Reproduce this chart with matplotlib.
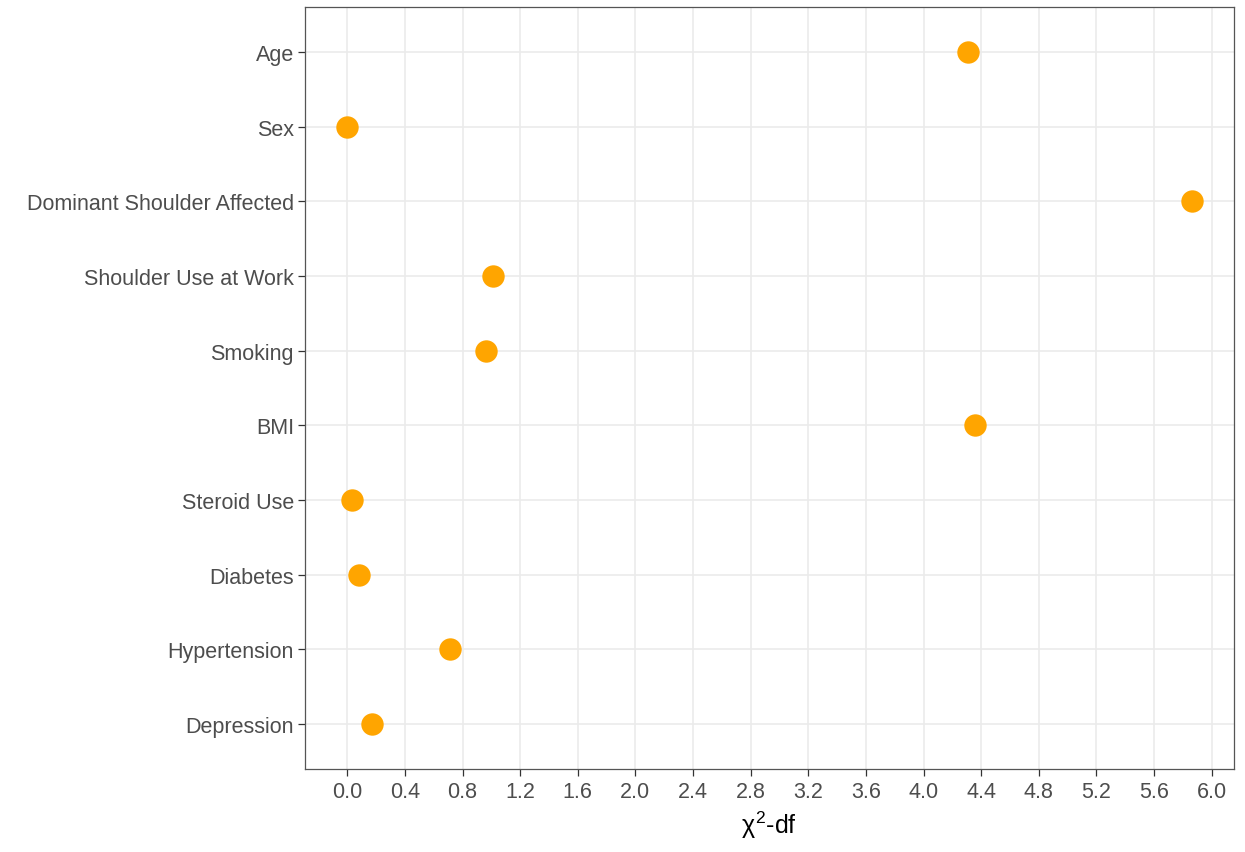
import numpy as np
import matplotlib.pyplot as plt

plt.rcParams["font.family"] = ["Liberation Sans", "DejaVu Sans"]
plt.rcParams["mathtext.fontset"] = "custom"
plt.rcParams["mathtext.rm"] = "Liberation Sans"
plt.rcParams["mathtext.it"] = "Liberation Sans"

# Variables (top to bottom) and their chi-square minus df
variables = ["Age", "Sex", "Dominant Shoulder Affected", "Shoulder Use at Work",
             "Smoking", "BMI", "Steroid Use", "Diabetes", "Hypertension", "Depression"]
chi2_df = [4.31, 0.00, 5.86, 1.01, 0.96, 4.36, 0.03, 0.08, 0.71, 0.17]
x_ticks = [0.0, 0.4, 0.8, 1.2, 1.6, 2.0, 2.4, 2.8, 3.2, 3.6, 4.0, 4.4, 4.8, 5.2, 5.6, 6.0]

fig = plt.figure(figsize=(12.45, 8.53), dpi=100)
ax = fig.add_axes([0.245, 0.0973, 0.746, 0.8933])

ypos = np.arange(len(variables))[::-1]
ax.scatter(chi2_df, ypos, s=260, color="#FFA500", zorder=3, linewidths=0)

ax.set_yticks(ypos)
ax.set_yticklabels(variables)
ax.set_xticks(x_ticks)
ax.set_xticklabels([f"{t:.1f}" for t in x_ticks])
ax.set_xlim(-0.293, 6.153)
ax.set_ylim(-0.6, len(variables) - 0.4)

ax.grid(True, color="#EBEBEB", linewidth=1.2, zorder=0)
ax.set_axisbelow(True)
for s in ax.spines.values():
    s.set_color("#555555")
    s.set_linewidth(0.9)
ax.tick_params(colors="#333333", labelcolor="#4D4D4D", labelsize=15.5, length=5, width=0.9)
ax.tick_params(axis="y", pad=3)

ax.set_xlabel(r"$\chi^2$-df", fontsize=18, color="black", labelpad=5)

fig.savefig("out.png", dpi=100)
